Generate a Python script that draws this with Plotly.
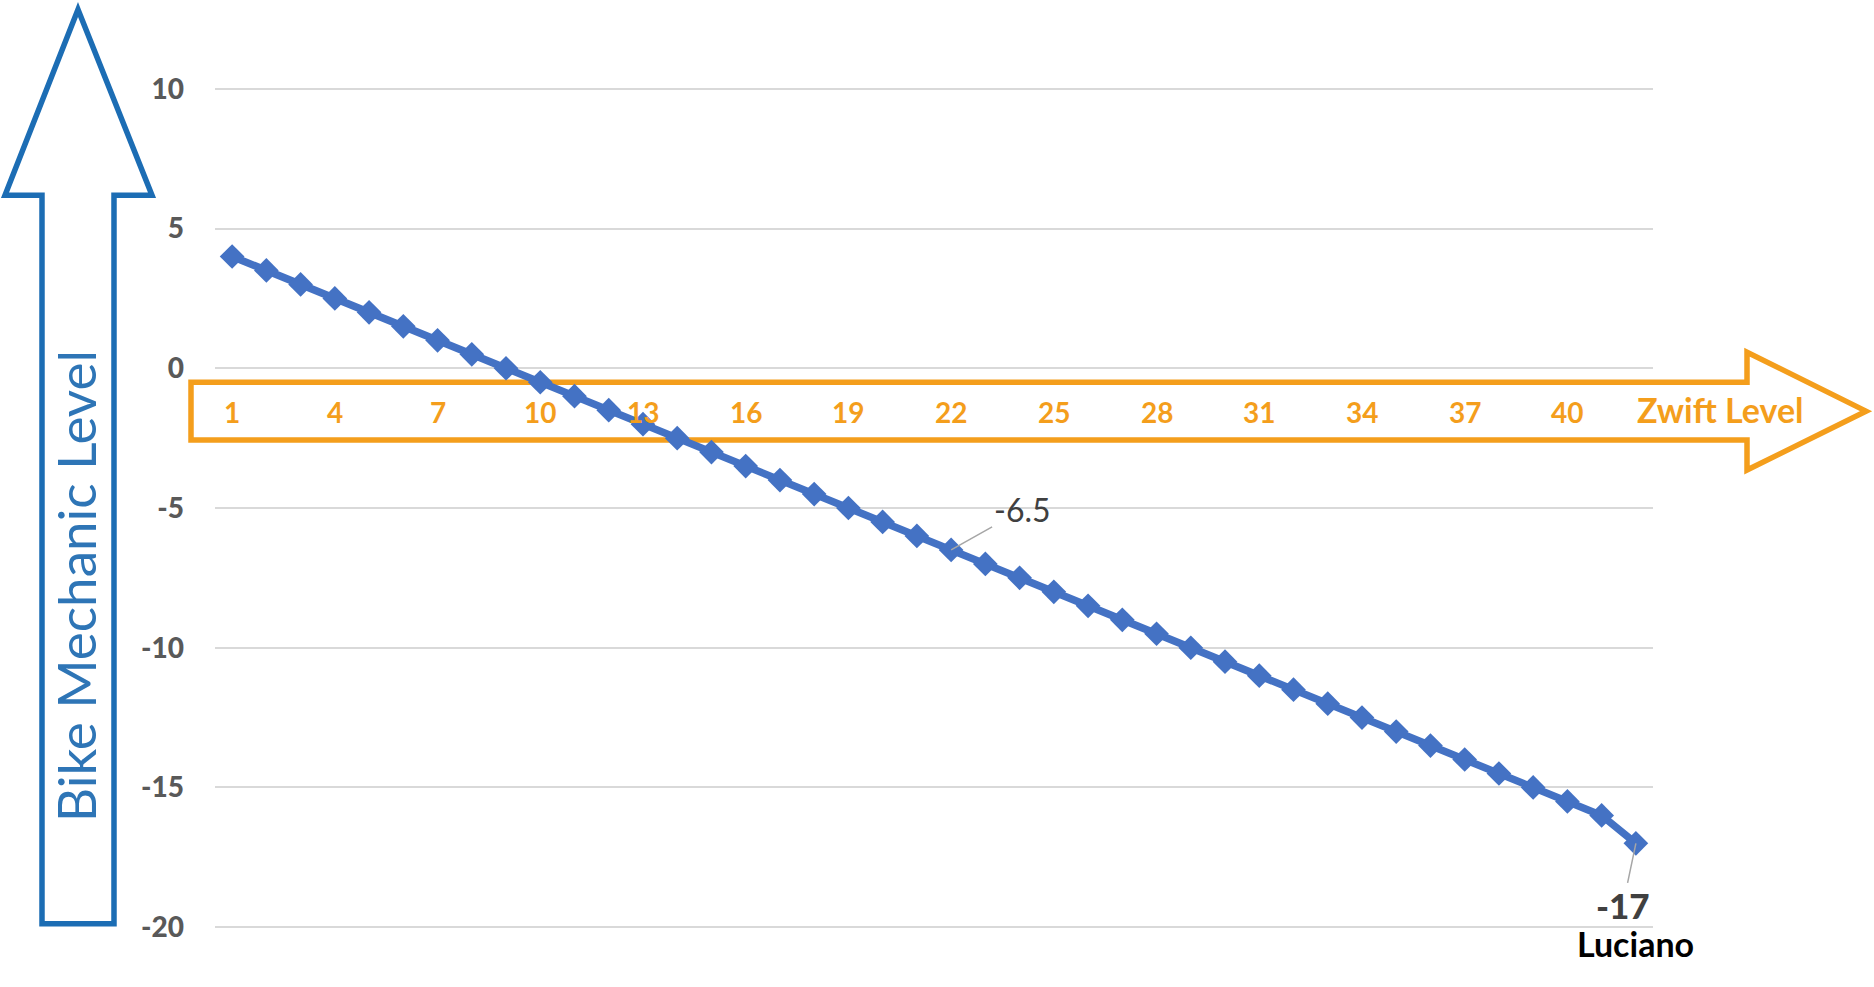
import plotly.graph_objects as go

# ---------------- data ----------------
zwift_level = list(range(1, 43))
bike_mechanic_level = [4, 3.5, 3, 2.5, 2, 1.5, 1, 0.5, 0, -0.5, -1, -1.5, -2, -2.5,
                       -3, -3.5, -4, -4.5, -5, -5.5, -6, -6.5, -7, -7.5, -8, -8.5,
                       -9, -9.5, -10, -10.5, -11, -11.5, -12, -12.5, -13, -13.5,
                       -14, -14.5, -15, -15.5, -16, -17]
x_tick_vals = [1, 4, 7, 10, 13, 16, 19, 22, 25, 28, 31, 34, 37, 40]
x_tick_text = ["1", "4", "7", "10", "13", "16", "19", "22", "25", "28", "31", "34", "37", "40"]
y_tick_vals = [10, 5, 0, -5, -10, -15, -20]
y_tick_text = ["10", "5", "0", "-5", "-10", "-15", "-20"]
labelled_points = [22, 42]
last_name = "Luciano"

# ---------------- layout constants ----------------
W, H = 1874, 987
Y_TOP_PIX, Y_BOT_PIX = 88.4, 927.5      # pixel rows of y=10 and y=-20
YPAD = 0.1                               # range padding so edge gridlines draw
unit = (Y_BOT_PIX - Y_TOP_PIX) / 30.0
L, R = 215, 1653
T, B = Y_TOP_PIX - YPAD * unit, Y_BOT_PIX + YPAD * unit
BLUE_LINE = "#4472C4"
ORANGE = "#F49E1C"
ARROW_BLUE = "#1C6DB4"
TITLE_BLUE = "#2E75B6"
FONT = "Lato"


def px(x):
    return (x - L) / (R - L)


def py(y):
    return (B - y) / (B - T)


def path(points):
    return "M " + " L ".join(f"{px(a):.5f},{py(b):.5f}" for a, b in points) + " Z"


fig = go.Figure()
fig.add_trace(go.Scatter(
    x=zwift_level, y=bike_mechanic_level, mode="lines+markers",
    line=dict(color=BLUE_LINE, width=7.5),
    marker=dict(symbol="diamond", size=19, color=BLUE_LINE),
    hoverinfo="x+y", showlegend=False,
))

shapes = [
    # orange horizontal arrow (x axis)
    dict(type="path", xref="paper", yref="paper", layer="below",
         path=path([(191, 382), (1747, 382), (1747, 352), (1866, 411),
                    (1747, 470), (1747, 440), (191, 440)]),
         line=dict(color=ORANGE, width=5.5), fillcolor="rgba(0,0,0,0)"),
    # blue vertical arrow (y axis)
    dict(type="path", xref="paper", yref="paper", layer="below",
         path=path([(78, 9), (152, 195), (114, 195), (114, 924), (42, 924),
                    (42, 195), (5, 195)]),
         line=dict(color=ARROW_BLUE, width=5.5), fillcolor="rgba(0,0,0,0)"),
]

annotations = []
# x tick labels inside the orange arrow
for v, t in zip(x_tick_vals, x_tick_text):
    annotations.append(dict(x=v, y=-1.55, xref="x", yref="y", text=t,
                            showarrow=False, xanchor="center", yanchor="middle",
                            font=dict(family=FONT, size=28, color=ORANGE, weight=700)))
annotations.append(dict(x=px(1720), y=py(409), xref="paper", yref="paper",
                        text="Zwift Level", showarrow=False,
                        xanchor="center", yanchor="middle",
                        font=dict(family=FONT, size=34, color=ORANGE, weight=700)))
# y-axis title inside blue arrow
annotations.append(dict(x=px(76), y=py(586), xref="paper", yref="paper",
                        text="Bike Mechanic Level", textangle=-90, showarrow=False,
                        xanchor="center", yanchor="middle",
                        font=dict(family=FONT, size=53, color=TITLE_BLUE)))
# data labels
i1 = zwift_level.index(labelled_points[0])
annotations.append(dict(x=zwift_level[i1], y=bike_mechanic_level[i1], xref="x", yref="y",
                        text=f"{bike_mechanic_level[i1]:g}", showarrow=True,
                        arrowhead=0, arrowwidth=1.5, arrowcolor="#A6A6A6",
                        ax=71, ay=-40,
                        font=dict(family=FONT, size=32, color="#404040")))
i2 = zwift_level.index(labelled_points[1])
annotations.append(dict(x=zwift_level[i2], y=bike_mechanic_level[i2], xref="x", yref="y",
                        text=f"{bike_mechanic_level[i2]:g}", showarrow=True,
                        arrowhead=0, arrowwidth=1.5, arrowcolor="#A6A6A6",
                        ax=-13, ay=62,
                        font=dict(family=FONT, size=35, color="#404040", weight=900)))
annotations.append(dict(x=zwift_level[i2], y=bike_mechanic_level[i2], xref="x", yref="y",
                        text=last_name, showarrow=False, yshift=-100,
                        font=dict(family=FONT, size=34, color="#000000", weight=700)))

fig.update_layout(
    width=W, height=H,
    margin=dict(l=L, r=W - R, t=T, b=H - B, pad=0),
    paper_bgcolor="white", plot_bgcolor="white",
    shapes=shapes, annotations=annotations,
    showlegend=False,
    xaxis=dict(range=[0.5, 42.5], showgrid=False, zeroline=False,
               showticklabels=False, showline=False),
    yaxis=dict(range=[-20 - YPAD, 10 + YPAD], tickvals=y_tick_vals,
               ticktext=y_tick_text, showgrid=True,
               gridcolor="#D9D9D9", gridwidth=1.5, zeroline=False, showline=False,
               ticks="", ticklabelstandoff=30,
               tickfont=dict(family=FONT, size=28, color="#595959", weight=900)),
)

fig.write_html("out.html", config={"displayModeBar": False},
               post_script="document.body.style.margin='0';")
